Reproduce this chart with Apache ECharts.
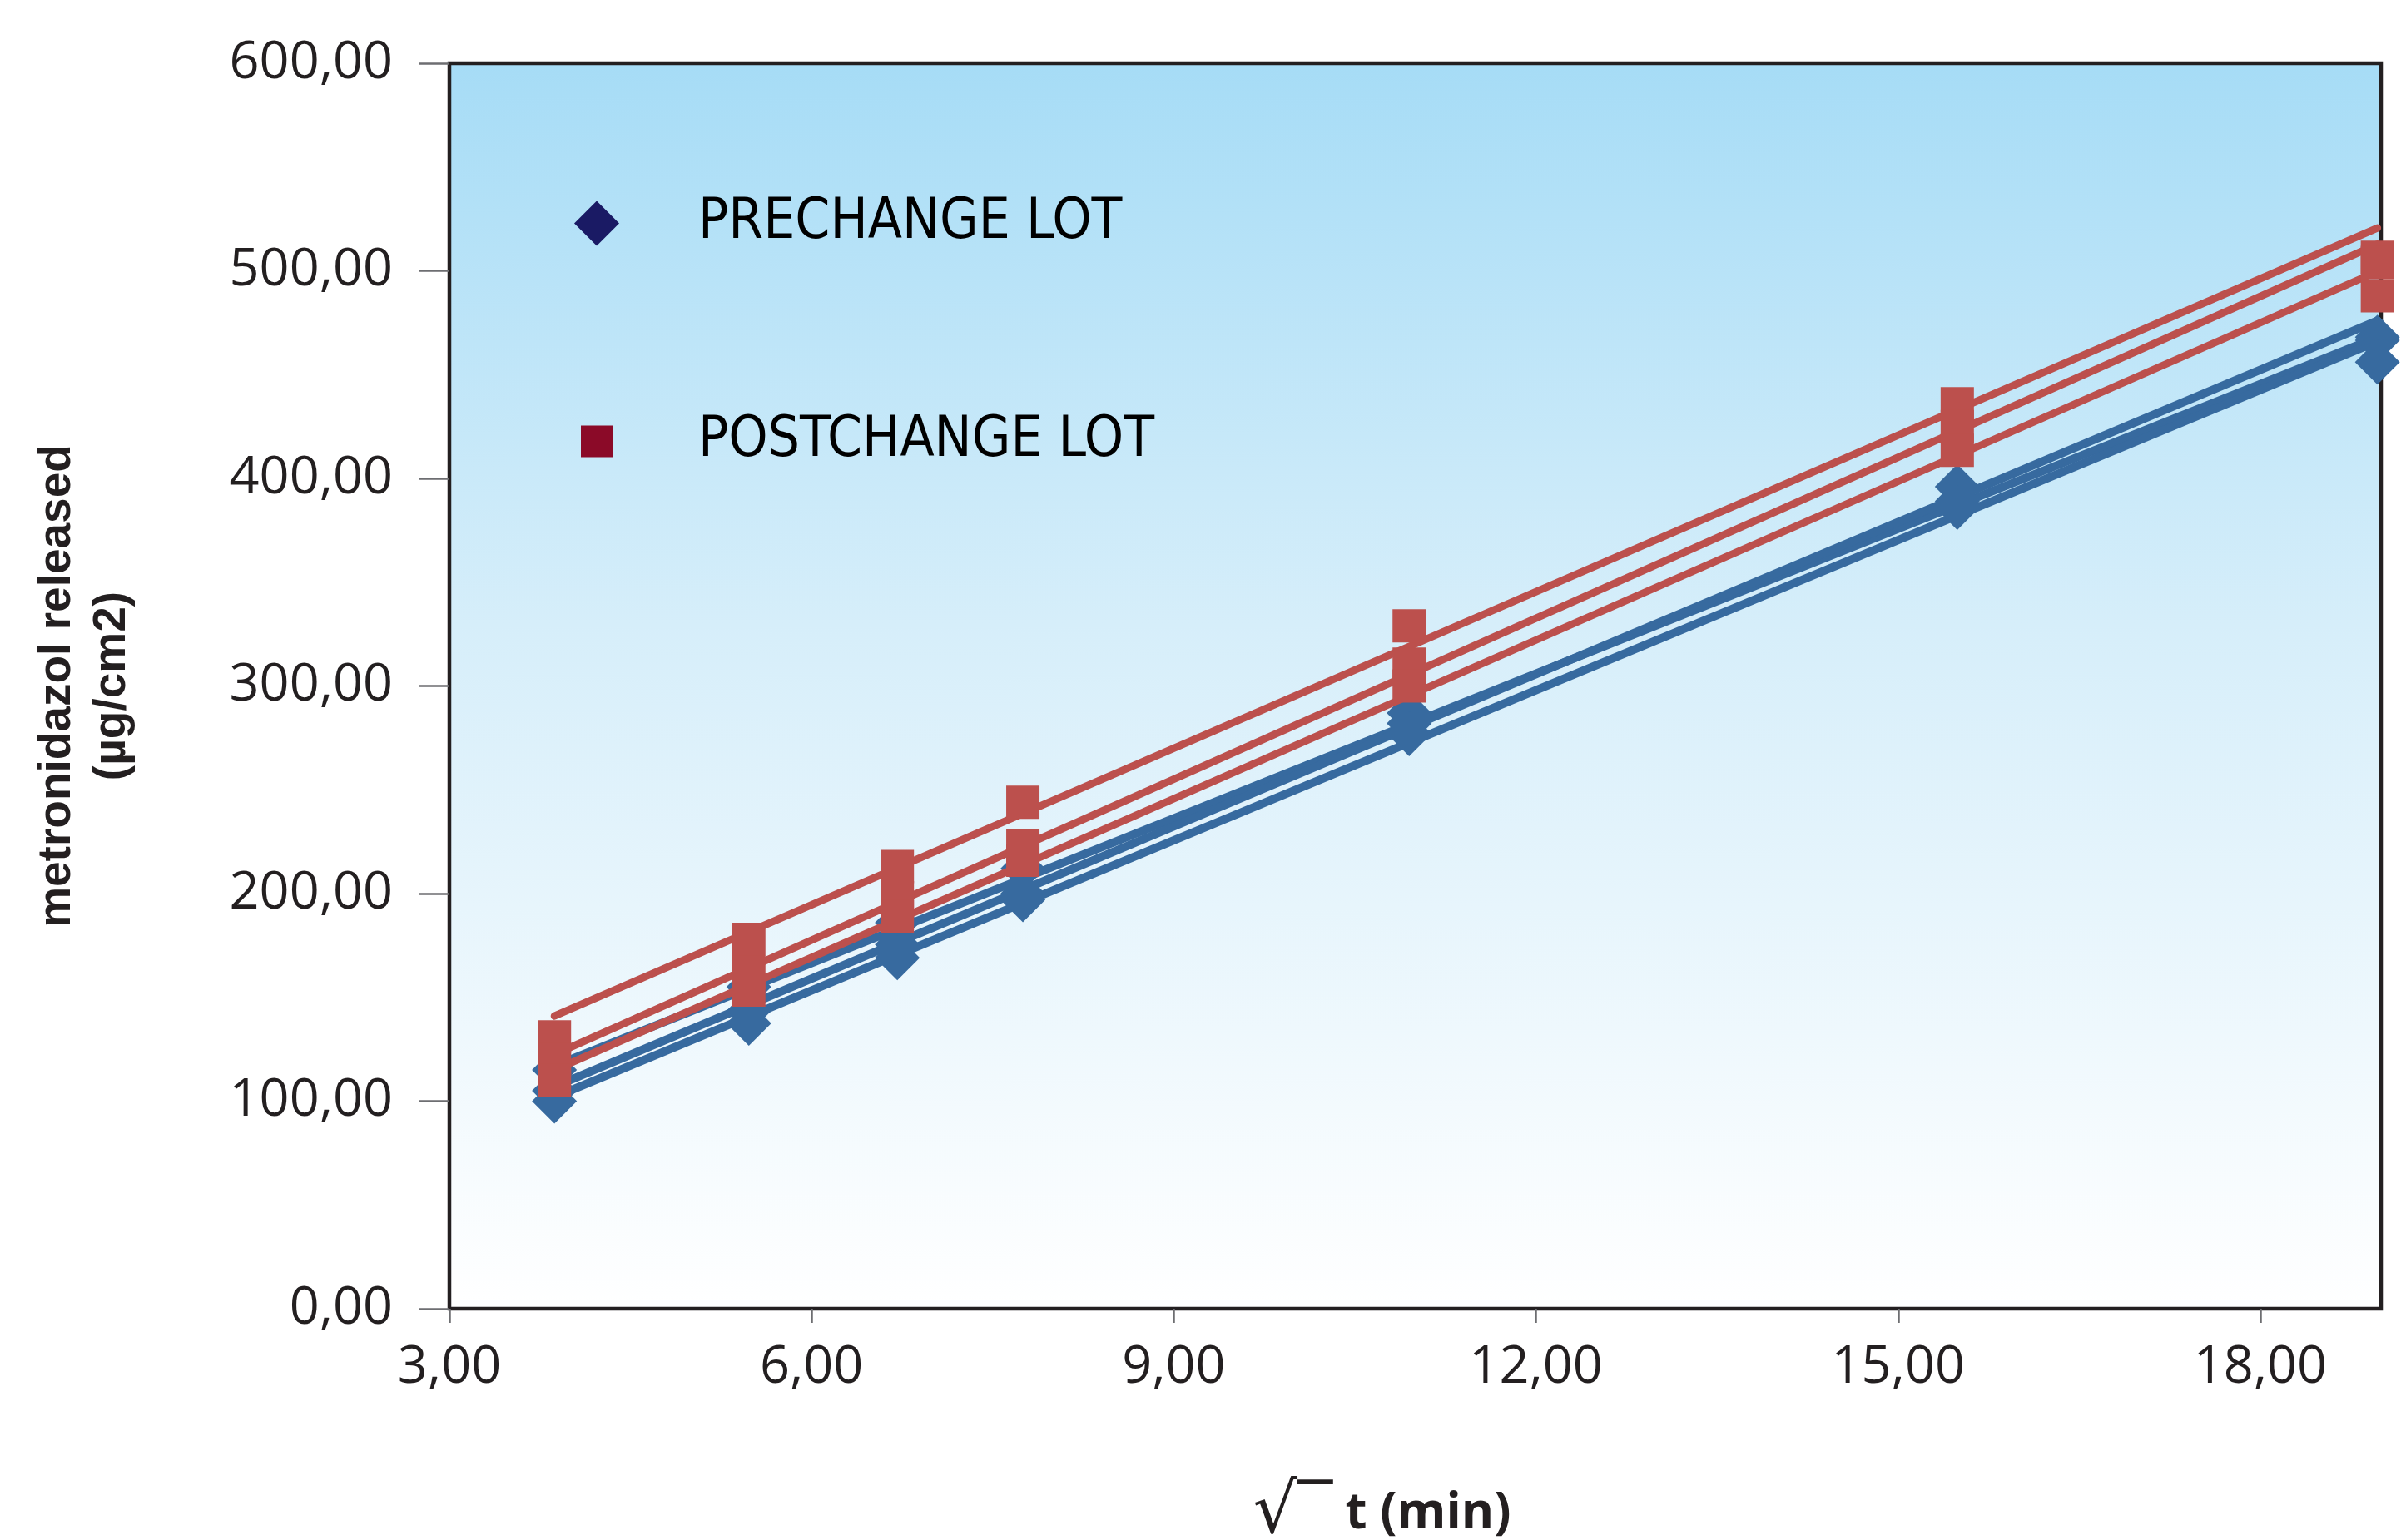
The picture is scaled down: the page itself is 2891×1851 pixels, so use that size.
<!DOCTYPE html>
<html>
<head>
<meta charset="utf-8">
<script src="https://cdn.jsdelivr.net/npm/echarts@6/dist/echarts.min.js"></script>
<style>
html,body{margin:0;padding:0;background:#fff;}
#chart{width:2891px;height:1851px;}
</style>
</head>
<body>
<div id="chart"></div>
<script>
// sqrt(t) sampling points (min^0.5)
const sqrtTimes = [3.87, 5.48, 6.71, 7.75, 10.95, 15.49, 18.97];
const xTicks = [3, 6, 9, 12, 15, 18];

// PRECHANGE LOT measurements (µg/cm2), three lots
const preLotA = [115, 155, 186, 212, 287, 396, 468];
const preLotB = [105, 143.5, 175.5, 200, 282, 389, 466.5];
const preLotC = [100, 137.5, 169, 197, 277, 386, 456];

// POSTCHANGE LOT measurements (µg/cm2), three lots
const postLotA = [131, 178, 213, 244, 329, 436, 506.5];
const postLotB = [120, 162, 198, 223, 310.5, 425, 504];
const postLotC = [110, 153.5, 189, 216, 300, 413.5, 488];

// Trend line values read at first and last sampling point
const preTrendStart = [117, 107, 102];
const preTrendEnd = [468, 476, 466];
const postTrendStart = [141, 122.5, 115];
const postTrendEnd = [520.6, 512.8, 499.7];

const BLUE = '#376a9f';
const RED = '#bc504d';

function pts(vals){ return sqrtTimes.map((x,i)=>[x, vals[i]]); }
const x0 = sqrtTimes[0], x1 = sqrtTimes[sqrtTimes.length-1];

const series = [];
preTrendStart.forEach((s,i)=>{
  series.push({type:'line', name:'pre trend '+i, data:[[x0,s],[x1,preTrendEnd[i]]],
    showSymbol:false, silent:true, z:2,
    lineStyle:{color:BLUE, width:10, cap:'round'}});
});
series.push({type:'scatter', name:'PRECHANGE LOT', z:3,
  data:[].concat(pts(preLotA), pts(preLotB), pts(preLotC)),
  symbol:'diamond', symbolSize:54, itemStyle:{color:BLUE, opacity:1}});
postTrendStart.forEach((s,i)=>{
  series.push({type:'line', name:'post trend '+i, data:[[x0,s],[x1,postTrendEnd[i]]],
    showSymbol:false, silent:true, z:4,
    lineStyle:{color:RED, width:9, cap:'round'}});
});
series.push({type:'scatter', name:'POSTCHANGE LOT', z:5,
  data:[].concat(pts(postLotA), pts(postLotB), pts(postLotC)),
  symbol:'rect', symbolSize:40, itemStyle:{color:RED, opacity:1}});

const fmt = v => v.toFixed(2).replace('.', ',');
const legendText = {fontFamily:"'Liberation Sans Narrow','DejaVu Sans Condensed','Open Sans',sans-serif", fontSize:67, color:'#000'};

const chart = echarts.init(document.getElementById('chart'), null, {renderer:'canvas'});
chart.setOption({
  animation:false,
  backgroundColor:'#fff',
  grid:{left:540, top:76, right:30, bottom:278, show:true, outerBoundsMode:'none', containLabel:false,
    borderColor:'#231f20', borderWidth:4.5,
    backgroundColor:{type:'linear', x:0, y:0, x2:0, y2:1,
      colorStops:[{offset:0, color:'#a6dcf6'},{offset:0.45, color:'#d6eefa'},{offset:1, color:'#ffffff'}]}},
  legend:[
    {data:[{name:'PRECHANGE LOT', icon:'diamond', itemStyle:{color:'#1a1a64'}}],
     left:690, top:235, padding:0, itemWidth:54, itemHeight:54,
     textStyle:Object.assign({padding:[0,0,0,90]}, legendText)},
    {data:[{name:'POSTCHANGE LOT', icon:'rect', itemStyle:{color:'#8b0a28'}}],
     left:698, top:497, padding:0, itemWidth:38, itemHeight:38,
     textStyle:Object.assign({padding:[0,0,0,98]}, legendText)}
  ],
  xAxis:{type:'value', min:3, max:19, interval:3,
    name:'{s|√‾}{t| t (min)}', nameLocation:'middle', nameGap:205,
    nameTextStyle:{padding:[0,80,0,0], rich:{
      s:{fontFamily:'DejaVu Sans', fontSize:84, color:'#231f20'},
      t:{fontFamily:'Open Sans', fontWeight:'bold', fontSize:60, color:'#231f20'}}},
    axisLine:{show:false},
    axisTick:{show:true, length:17, lineStyle:{color:'#6d6e71', width:2.5}, customValues:xTicks},
    axisLabel:{customValues:xTicks, formatter:fmt, margin:40,
      fontFamily:'Open Sans', fontSize:63, color:'#231f20'},
    splitLine:{show:false}},
  yAxis:{type:'value', min:0, max:600, interval:100,
    name:'metronidazol released\n(µg/cm2)', nameLocation:'middle', nameGap:372, nameRotate:90,
    nameTextStyle:{fontFamily:'Liberation Sans', fontWeight:'bold', fontSize:55, lineHeight:66, color:'#231f20'},
    axisLine:{show:false},
    axisTick:{show:true, length:37, lineStyle:{color:'#6d6e71', width:2.5}},
    axisLabel:{formatter:fmt, margin:68, fontFamily:'Open Sans', fontSize:63, color:'#231f20'},
    splitLine:{show:false}},
  series:series
});
</script>
</body>
</html>
